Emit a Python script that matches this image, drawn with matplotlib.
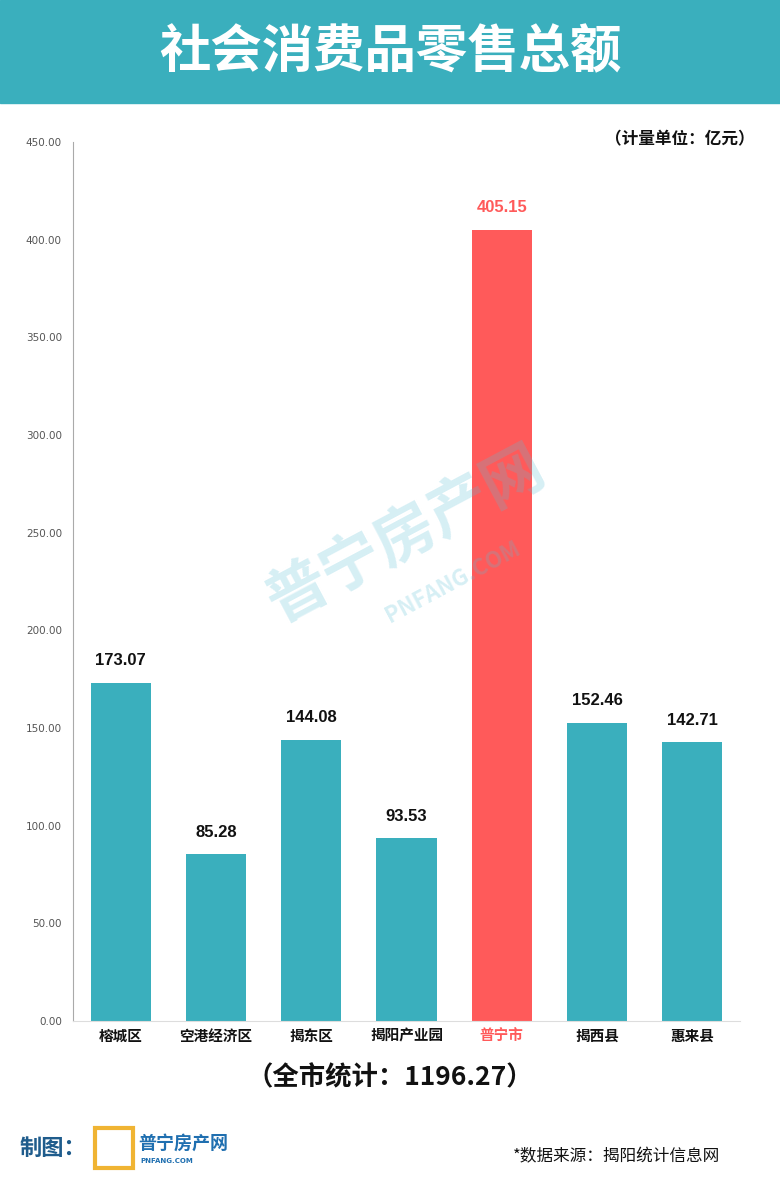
import matplotlib
matplotlib.use("Agg")
import matplotlib.pyplot as plt
from matplotlib.patches import Rectangle

plt.rcParams['font.family'] = ['Noto Sans CJK SC', 'DejaVu Sans']

# data
areas = ['榕城区', '空港经济区', '揭东区', '揭阳产业园', '普宁市', '揭西县', '惠来县']
sales = [173.07, 85.28, 144.08, 93.53, 405.15, 152.46, 142.71]
highlight = '普宁市'
total = 1196.27
yticks = [0, 50, 100, 150, 200, 250, 300, 350, 400, 450]

TEAL = '#3aafbd'
RED = '#ff5a5a'

fig = plt.figure(figsize=(7.8, 11.89), dpi=100)

# header band
fig.patches.append(Rectangle((0, 1 - 103 / 1189), 1, 103 / 1189, transform=fig.transFigure,
                             color=TEAL, zorder=0))
fig.text(0.5, 1 - 52 / 1189, '社会消费品零售总额', color='white', fontsize=37,
         fontweight='bold', ha='center', va='center')

ax = fig.add_axes([73 / 780, 1 - 1021 / 1189, 667 / 780, 879 / 1189])
x = list(range(len(areas)))
colors = [RED if a == highlight else TEAL for a in areas]
ax.bar(x, sales, width=0.63, color=colors, zorder=2)
ax.set_xlim(-0.5, len(areas) - 0.5)
ax.set_ylim(0, 450)
ax.set_yticks(yticks)
ax.set_yticklabels(['%.2f' % t for t in yticks], fontsize=7.5, color='#555555',
                   family=['DejaVu Sans'])
ax.set_xticks(x)
ax.set_xticklabels(areas, fontsize=10.5, fontweight='bold')
for lbl, a in zip(ax.get_xticklabels(), areas):
    lbl.set_color(RED if a == highlight else '#111111')
ax.tick_params(axis='both', length=0)
ax.tick_params(axis='y', pad=8)
ax.tick_params(axis='x', pad=5)
for s in ['top', 'right']:
    ax.spines[s].set_visible(False)
ax.spines['left'].set_color('#aaaaaa')
ax.spines['bottom'].set_color('#dddddd')

for xi, v, a in zip(x, sales, areas):
    ax.annotate('%.2f' % v, (xi, v), xytext=(0, 16), textcoords='offset points',
                ha='center', va='center', fontsize=12, fontweight='bold',
                color=RED if a == highlight else '#111111',
                family=['Liberation Sans', 'DejaVu Sans'])

# watermark
fig.text(0.52, 0.55, '普宁房产网', fontsize=44, fontweight='bold', color='#5bbfd6',
         alpha=0.25, rotation=28, ha='center', va='center')
fig.text(0.58, 0.51, 'PNFANG.COM', fontsize=16, fontweight='bold', color='#5bbfd6',
         alpha=0.25, rotation=28, ha='center', va='center')

fig.text(680 / 780, 1 - 139 / 1189, '（计量单位：亿元）', fontsize=12, fontweight='bold',
         ha='center', va='center', color='#111111')
fig.text(0.5, 1 - 1078 / 1189, '（全市统计：%.2f）' % total, fontsize=19, fontweight='bold',
         ha='center', va='center', color='#111111')

# footer
fig.text(20 / 780, 1 - 1148 / 1189, '制图：', fontsize=16, fontweight='bold',
         color='#1f5c8c', ha='left', va='center')
fig.text(138 / 780, 1 - 1143 / 1189, '普宁房产网', fontsize=13, fontweight='bold',
         color='#1f6fb0', ha='left', va='center')
fig.text(140 / 780, 1 - 1161 / 1189, 'PNFANG.COM', fontsize=5, fontweight='bold',
         color='#1f6fb0', ha='left', va='center', family=['DejaVu Sans'])
fig.patches.append(Rectangle((95 / 780, 1 - 1168 / 1189), 38 / 780, 40 / 1189,
                             transform=fig.transFigure, fill=False, ec='#f0b433', lw=3))
fig.text(720 / 780, 1 - 1157 / 1189, '*数据来源：揭阳统计信息网', fontsize=12,
         ha='right', va='center', color='#111111')

fig.savefig('out.png', dpi=100)
